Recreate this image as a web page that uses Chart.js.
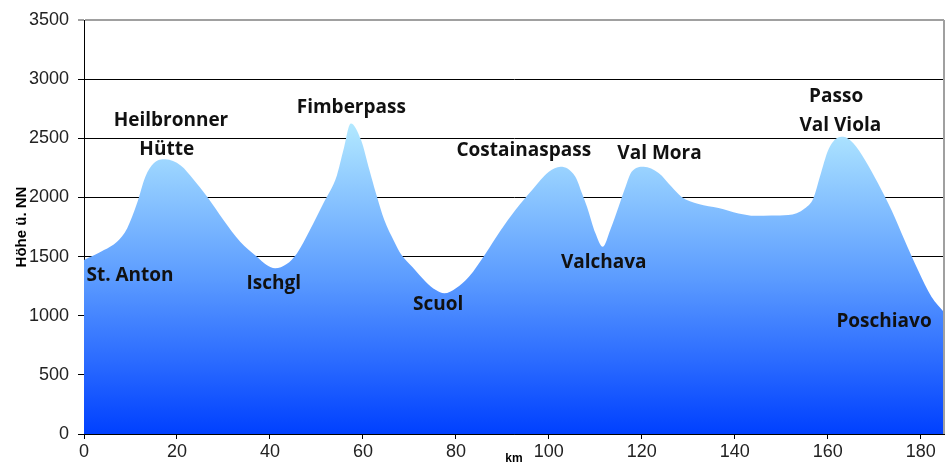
<!DOCTYPE html>
<html>
<head>
<meta charset="utf-8">
<script src="https://cdn.jsdelivr.net/npm/chart.js@4"></script>
<style>
  html, body { margin: 0; padding: 0; background: #fff; }
  #wrap { width: 949px; height: 464px; }
</style>
</head>
<body>
<div id="wrap"><canvas id="profile"></canvas></div>
<script>
// Streckenprofil: km vs. Höhe ü. NN
const kmValues = [0, 4.3, 7.1, 9.3, 11.4, 13.2, 15, 17.5, 20.8, 23.6, 26.5, 30, 33.6, 37.2, 39.3, 41.1, 43.6, 45.8, 48.6, 51.5, 54.4, 55.8, 57.4, 59.6, 61.4, 62.8, 64.6, 66.7, 68.2, 70.7, 73.5, 75.7, 77.5, 80, 82.8, 86.4, 89.5, 92.8, 96.4, 100, 102.5, 105.7, 107.1, 108.2, 110, 111.6, 113.2, 115, 116.5, 117.8, 120.4, 123.6, 126.4, 128.5, 132.2, 136.5, 140.8, 144.4, 151.5, 155.1, 156.9, 158.3, 160.1, 161.9, 163.3, 165.5, 168, 170.8, 173.7, 176.5, 179.4, 182.3, 185];
const heightValues = [1470, 1555, 1626, 1740, 1950, 2175, 2288, 2322, 2270, 2150, 2006, 1809, 1626, 1499, 1429, 1401, 1437, 1527, 1724, 1950, 2185, 2400, 2626, 2485, 2232, 2035, 1809, 1630, 1520, 1410, 1288, 1217, 1189, 1232, 1330, 1527, 1715, 1893, 2063, 2217, 2260, 2175, 2037, 1921, 1699, 1583, 1724, 1921, 2090, 2217, 2260, 2206, 2090, 2006, 1944, 1910, 1865, 1845, 1851, 1908, 1992, 2175, 2401, 2500, 2513, 2457, 2316, 2119, 1893, 1640, 1386, 1161, 1030];
const yTicks = [0, 500, 1000, 1500, 2000, 2500, 3000, 3500];
const xTicks = [0, 20, 40, 60, 80, 100, 120, 140, 160, 180];

// Ortsnamen (Lage in km / m)
const placeNames = ['Heilbronner', 'Hütte', 'Fimberpass', 'St. Anton', 'Ischgl', 'Scuol', 'Costainaspass', 'Valchava', 'Val Mora', 'Passo', 'Val Viola', 'Poschiavo'];
const placeKm = [18.7, 17.8, 57.5, 9.9, 40.8, 76.2, 94.6, 111.8, 123.8, 161.8, 162.7, 172.1];
const placeHeight = [2646, 2401, 2756, 1336, 1268, 1090, 2392, 1445, 2367, 2849, 2604, 947];

const points = kmValues.map((km, i) => ({ x: km, y: heightValues[i] }));

const tickFont = { family: '"Liberation Sans Narrow", "Liberation Sans", sans-serif', size: 18 };

// gradient fill, light cyan at the peaks to strong blue at the bottom
const fillGradient = (context) => {
  const chart = context.chart;
  const area = chart.chartArea;
  if (!area) return '#4a8cff';
  const yScale = chart.scales.y;
  const g = chart.ctx.createLinearGradient(0, yScale.getPixelForValue(2650), 0, area.bottom);
  g.addColorStop(0, '#b4eaff');
  g.addColorStop(0.5, '#5c9cff');
  g.addColorStop(1, '#0040ff');
  return g;
};

// draw the place names and the grey frame
const labelPlugin = {
  id: 'placeLabels',
  afterDatasetsDraw(chart) {
    const { ctx, chartArea, scales } = chart;
    ctx.save();
    ctx.strokeStyle = '#a0a0a0';
    ctx.lineWidth = 2;
    ctx.beginPath();
    ctx.moveTo(chartArea.right, chartArea.top);
    ctx.lineTo(chartArea.right, chartArea.bottom);
    ctx.stroke();
    ctx.font = 'bold 19px "Open Sans", sans-serif';
    ctx.fillStyle = '#111';
    ctx.textAlign = 'center';
    ctx.textBaseline = 'middle';
    placeNames.forEach((name, i) => {
      ctx.fillText(name, scales.x.getPixelForValue(placeKm[i]), scales.y.getPixelForValue(placeHeight[i]));
    });
    ctx.restore();
  }
};

new Chart(document.getElementById('profile'), {
  type: 'line',
  data: {
    datasets: [{
      data: points,
      fill: 'origin',
      backgroundColor: fillGradient,
      borderWidth: 0,
      pointRadius: 0,
      cubicInterpolationMode: 'monotone'
    }]
  },
  options: {
    responsive: true,
    maintainAspectRatio: false,
    animation: false,
    layout: { padding: { top: 20, right: 5, left: 0, bottom: 0 } },
    plugins: { legend: { display: false }, tooltip: { enabled: false } },
    scales: {
      x: {
        type: 'linear',
        min: 0,
        max: 185,
        afterBuildTicks: (scale) => { scale.ticks = xTicks.map(v => ({ value: v })); },
        afterFit: (scale) => { scale.height = 30; },
        ticks: { font: tickFont, color: '#222', maxRotation: 0, padding: 2, callback: (v) => String(v) },
        grid: { drawOnChartArea: false, drawTicks: true, tickLength: 5, color: '#000' },
        border: { color: '#000', width: 1 },
        title: { display: true, text: 'km', font: { family: 'Liberation Sans', size: 12, weight: 'bold' }, color: '#000', padding: { top: 0, bottom: -2 } }
      },
      y: {
        min: 0,
        max: 3500,
        afterBuildTicks: (scale) => { scale.ticks = yTicks.map(v => ({ value: v })); },
        afterFit: (scale) => { scale.width = 84; },
        ticks: { font: tickFont, color: '#222', padding: 9, callback: (v) => String(v) },
        grid: {
          color: (c) => (c.tick && c.tick.value === 3500 ? '#a0a0a0' : '#000'),
          lineWidth: (c) => (c.tick && c.tick.value === 3500 ? 2 : 1),
          tickLength: 6
        },
        border: { color: '#000', width: 1 },
        title: { display: true, text: 'Höhe ü. NN', font: { family: 'Liberation Sans', size: 15, weight: 'bold' }, color: '#000', padding: { top: 13, bottom: 0 } }
      }
    }
  },
  plugins: [labelPlugin]
});
</script>
</body>
</html>
